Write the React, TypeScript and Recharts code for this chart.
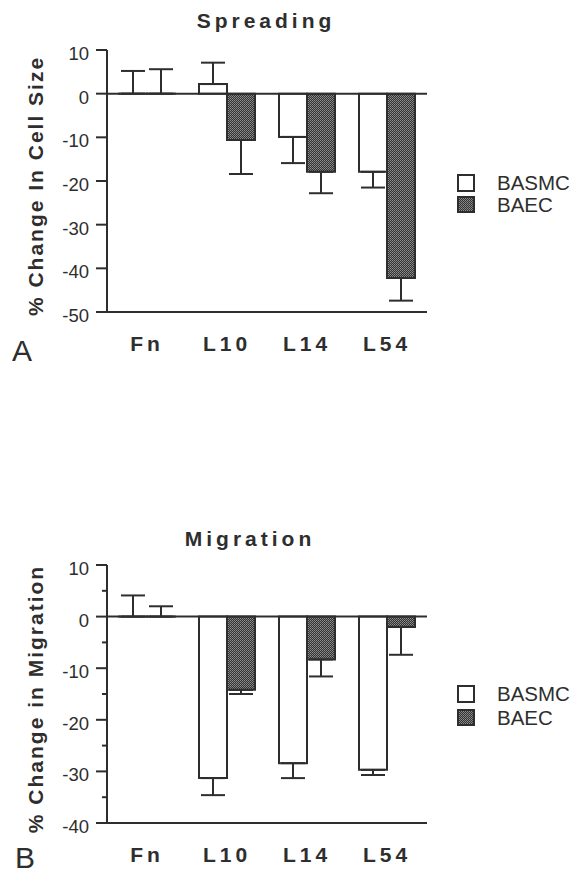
import React from 'react';
import {
  BarChart,
  Bar,
  XAxis,
  YAxis,
  ErrorBar,
  ReferenceLine,
  Legend,
  Label,
} from 'recharts';

// --- data ---
const categories = ['Fn', 'L10', 'L14', 'L54'];

// Panel A: spreading (% change in cell size)
const spreadBasmc = [0, 2.2, -9.9, -17.9];
const spreadBasmcErr = [5.2, 4.9, 6.0, 3.6];
const spreadBaec = [0, -10.6, -17.9, -42.2];
const spreadBaecErr = [5.6, 7.8, 4.9, 5.2];
const spreadTicks = [10, 0, -10, -20, -30, -40, -50];

// Panel B: migration (% change in migration)
const migBasmc = [0, -31.3, -28.4, -29.7];
const migBasmcErr = [4.1, 3.3, 2.9, 1.0];
const migBaec = [0, -14.2, -8.3, -2.0];
const migBaecErr = [2.0, 0.8, 3.3, 5.4];
const migTicks = [10, 5, 0, -5, -10, -15, -20, -25, -30, -35, -40];

const seriesNames = ['BASMC', 'BAEC'];

const FONT = '"Liberation Sans", Arial, Helvetica, sans-serif';
const INK = '#2e2e2e';
const AXIS_X = 107; // margin.left (0) + YAxis width

// error bars only point away from zero
const oneSided = (v: number, e: number): [number, number] => (v >= 0 ? [0, e] : [e, 0]);

const buildRows = (a: number[], aErr: number[], b: number[], bErr: number[]) =>
  categories.map((cat, i) => ({
    cat,
    basmc: a[i],
    basmcErr: oneSided(a[i], aErr[i]),
    baec: b[i],
    baecErr: oneSided(b[i], bErr[i]),
  }));

const spreadData = buildRows(spreadBasmc, spreadBasmcErr, spreadBaec, spreadBaecErr);
const migData = buildRows(migBasmc, migBasmcErr, migBaec, migBaecErr);

const Stipple = ({ id }: { id: string }) => (
  <pattern id={id} width="2" height="2" patternUnits="userSpaceOnUse">
    <rect width="2" height="2" fill="#333" />
    <rect x="0" y="0" width="1" height="1" fill="#8f8f8f" />
    <rect x="1" y="1" width="1" height="1" fill="#7a7a7a" />
  </pattern>
);

const YTick = (props: any) => {
  const { y, payload } = props;
  const v = payload.value as number;
  const major = v % 10 === 0;
  const len = major ? 11 : 5;
  return (
    <g>
      <line x1={AXIS_X - len} x2={AXIS_X} y1={y} y2={y} stroke={INK} strokeWidth={2} />
      {major && (
        <text x={89} y={y} dy={10} textAnchor="end" fontFamily={FONT} fontSize={18.5} fill={INK}>
          {v}
        </text>
      )}
    </g>
  );
};

const XTick = (props: any) => {
  const { x, y, payload } = props;
  return (
    <text
      x={x}
      y={y + 39}
      textAnchor="middle"
      fontFamily={FONT}
      fontSize={21}
      fontWeight="bold"
      fill={INK}
      style={{ letterSpacing: 4 }}
    >
      {payload.value}
    </text>
  );
};

const yLabel = (text: string) => (p: any) => {
  const vb = p.viewBox || { y: 0, height: 0 };
  const cy = vb.y + vb.height / 2 + 5;
  const bx = 43;
  return (
    <text
      x={bx}
      y={cy}
      transform={`rotate(-90 ${bx} ${cy})`}
      textAnchor="middle"
      fontFamily={FONT}
      fontSize={21}
      fontWeight="bold"
      fill={INK}
      style={{ letterSpacing: 2 }}
    >
      {text}
    </text>
  );
};

const LegendBox = ({ rowHeight, patternId }: { rowHeight: number; patternId: string }) => (
  <div style={{ fontFamily: FONT, fontSize: 20.5, color: INK }}>
    {seriesNames.map((name, i) => (
      <div key={name} style={{ display: 'flex', alignItems: 'center', height: rowHeight }}>
        <svg width={18} height={18} style={{ display: 'block' }}>
          <defs>
            <Stipple id={patternId} />
          </defs>
          <rect
            x={1}
            y={1}
            width={16}
            height={i === 0 ? 16 : 15}
            fill={i === 0 ? '#fff' : `url(#${patternId})`}
            stroke={INK}
            strokeWidth={2}
          />
        </svg>
        <span style={{ marginLeft: 22, lineHeight: `${rowHeight}px` }}>{name}</span>
      </div>
    ))}
  </div>
);

interface PanelProps {
  data: ReturnType<typeof buildRows>;
  domain: [number, number];
  ticks: number[];
  height: number;
  marginTop: number;
  axisHeight: number;
  yTitle: string;
  pid: string;
  legendTop: number;
  legendRow: number;
}

const Panel: React.FC<PanelProps> = ({
  data,
  domain,
  ticks,
  height,
  marginTop,
  axisHeight,
  yTitle,
  pid,
  legendTop,
  legendRow,
}) => (
  <BarChart
    width={575}
    height={height}
    data={data}
    margin={{ top: marginTop, right: 148, bottom: 0, left: 0 }}
    barCategoryGap="15%"
    barGap={0}
  >
    <defs>
      <Stipple id={pid} />
    </defs>
    <XAxis
      dataKey="cat"
      height={axisHeight}
      axisLine={{ stroke: INK, strokeWidth: 2 }}
      tickLine={false}
      tickSize={0}
      tickMargin={0}
      tick={<XTick />}
      interval={0}
    />
    <YAxis
      type="number"
      domain={domain}
      ticks={ticks}
      interval={0}
      width={107}
      axisLine={{ stroke: INK, strokeWidth: 2 }}
      tickLine={false}
      tick={<YTick />}
    >
      <Label content={yLabel(yTitle)} />
    </YAxis>
    <Legend
      layout="vertical"
      align="center"
      verticalAlign="middle"
      content={() => <LegendBox rowHeight={legendRow} patternId={pid + 'L'} />}
      wrapperStyle={{ left: 457, top: legendTop, width: 118 }}
    />
    {/* a tiny minPointSize keeps the zero-valued Fn bars so their error bars are drawn */}
    <Bar
      dataKey="basmc"
      name="BASMC"
      fill="#fff"
      stroke={INK}
      strokeWidth={2}
      minPointSize={0.01}
      isAnimationActive={false}
    >
      <ErrorBar dataKey="basmcErr" width={12} stroke={INK} strokeWidth={2} isAnimationActive={false} />
    </Bar>
    <Bar
      dataKey="baec"
      name="BAEC"
      fill={`url(#${pid})`}
      stroke={INK}
      strokeWidth={2}
      minPointSize={0.01}
      isAnimationActive={false}
    >
      <ErrorBar dataKey="baecErr" width={12} stroke={INK} strokeWidth={2} isAnimationActive={false} />
    </Bar>
    <ReferenceLine y={0} stroke={INK} strokeWidth={2} />
  </BarChart>
);

const App: React.FC = () => (
  <div style={{ position: 'absolute', left: 0, top: 0, width: 575, height: 874, background: '#fff' }}>
    <div style={{ position: 'absolute', left: 0, top: 0 }}>
      <Panel
        data={spreadData}
        domain={[-50, 10]}
        ticks={spreadTicks}
        height={365}
        marginTop={50}
        axisHeight={53}
        yTitle="% Change In Cell Size"
        pid="stippleA"
        legendTop={172}
        legendRow={22}
      />
    </div>
    <div style={{ position: 'absolute', left: 0, top: 500 }}>
      <Panel
        data={migData}
        domain={[-40, 10]}
        ticks={migTicks}
        height={374}
        marginTop={65}
        axisHeight={51}
        yTitle="% Change in Migration"
        pid="stippleB"
        legendTop={182}
        legendRow={24}
      />
    </div>
    <svg
      width={575}
      height={874}
      style={{ position: 'absolute', left: 0, top: 0, pointerEvents: 'none' }}
    >
      <g fontFamily={FONT} fill={INK}>
        <text x={266} y={28} textAnchor="middle" fontSize={21} fontWeight="bold" style={{ letterSpacing: 4 }}>
          Spreading
        </text>
        <text x={250} y={546} textAnchor="middle" fontSize={21} fontWeight="bold" style={{ letterSpacing: 4 }}>
          Migration
        </text>
        <text x={12} y={361} fontSize={30}>
          A
        </text>
        <text x={15} y={868} fontSize={30}>
          B
        </text>
      </g>
    </svg>
  </div>
);

export default App;
